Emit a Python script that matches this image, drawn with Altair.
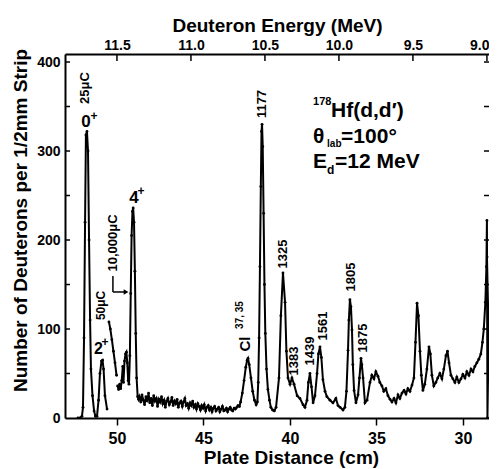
import altair as alt
import pandas as pd

# ---------------- spectrum: plate distance (cm) vs counts per 1/2 mm strip ----------------
# 25 uC exposure (0+ and 2+ peaks)
a_cm = [52.25, 52.13, 52.02, 51.96, 51.90, 51.84, 51.79, 51.73, 51.67, 51.61, 51.55, 51.50,
        51.41, 51.32, 51.24, 51.15, 51.06, 50.98, 50.89, 50.83, 50.77, 50.69, 50.57]
a_n = [0, 0, 2, 12, 90, 220, 318, 322, 300, 200, 110, 55,
       25, 8, 2, 2, 20, 50, 64, 65, 55, 25, 10]

# 50 uC exposure
b_cm = [50.46, 50.38, 50.29, 50.20, 50.11, 50.02]
b_n = [108, 100, 88, 75, 62, 48]

# 10,000 uC exposure
c1_cm = [49.96, 49.90, 49.84, 49.78, 49.72, 49.66, 49.62, 49.56, 49.50, 49.45, 49.40, 49.35,
         49.30, 49.25, 49.20, 49.15, 49.10, 49.06, 49.01, 48.96, 48.91, 48.86, 48.80, 48.75]
c1_n = [36, 32, 38, 33, 42, 58, 40, 64, 72, 74, 62, 42,
        38, 70, 140, 205, 232, 236, 220, 165, 95, 45, 24, 21]

bg_cm = [48.70, 48.62, 48.55, 48.47, 48.40, 48.32, 48.25, 48.17, 48.10, 48.02,
         47.95, 47.87, 47.80, 47.72, 47.65, 47.57, 47.50, 47.42, 47.35, 47.27,
         47.20, 47.12, 47.05, 46.97, 46.90, 46.82, 46.75, 46.67, 46.60, 46.52,
         46.45, 46.37, 46.30, 46.22, 46.15, 46.07, 46.00, 45.92, 45.85, 45.77,
         45.70, 45.62, 45.55, 45.47, 45.40, 45.32, 45.25, 45.17, 45.10, 45.02,
         44.95, 44.87, 44.80, 44.72, 44.65, 44.57, 44.50, 44.42, 44.35, 44.27,
         44.20, 44.12, 44.05, 43.97, 43.90, 43.82, 43.75, 43.67, 43.60, 43.52,
         43.45, 43.37, 43.30, 43.22, 43.15, 43.07, 43.00]
bg_n = [24, 18, 26, 20, 15, 24, 19, 28, 17, 22,
        14, 25, 19, 22, 13, 21, 18, 24, 16, 20,
        12, 19, 22, 15, 18, 23, 14, 19, 16, 21,
        12, 17, 19, 13, 18, 22, 14, 16, 11, 17,
        14, 19, 12, 15, 10, 16, 13, 9, 14, 11,
        15, 8, 12, 14, 9, 12, 7, 11, 13, 8,
        10, 12, 7, 10, 13, 8, 9, 11, 7, 10,
        12, 9, 8, 11, 10, 12, 14]

cl_cm = [42.92, 42.85, 42.75, 42.65, 42.55, 42.47, 42.42, 42.35, 42.25, 42.15, 42.05, 41.95,
         41.88, 41.83, 41.78, 41.73, 41.68, 41.64, 41.61, 41.57, 41.52, 41.47, 41.42, 41.35,
         41.27, 41.18, 41.10, 41.00, 40.90]
cl_n = [13, 18, 28, 42, 57, 65, 67, 60, 45, 30, 20, 15,
        18, 40, 90, 170, 260, 322, 330, 305, 230, 150, 95, 55,
        32, 20, 12, 9, 8]

mid_cm = [40.80, 40.63, 40.52, 40.40, 40.28, 40.20, 40.11, 39.99, 39.88, 39.76,
          39.58, 39.42, 39.24, 39.13, 39.01, 38.93, 38.84, 38.75, 38.66, 38.55,
          38.43, 38.35, 38.26, 38.18, 38.09, 37.97, 37.86, 37.68, 37.51, 37.34,
          37.22, 37.10, 36.93, 36.82, 36.73, 36.64, 36.59, 36.53, 36.47, 36.41,
          36.36, 36.29, 36.18, 36.06, 35.98, 35.89, 35.84, 35.77, 35.66, 35.54]
mid_n = [12, 45, 115, 163, 130, 75, 45, 38, 45, 38,
         25, 22, 15, 12, 20, 40, 50, 35, 17, 25,
         50, 72, 80, 68, 43, 30, 24, 20, 17, 22,
         14, 12, 9, 12, 30, 76, 110, 133, 125, 99,
         60, 31, 17, 26, 45, 67, 60, 45, 17, 20]

tail_cm = [35.37, 35.26, 35.14, 35.03, 34.91, 34.80, 34.68, 34.57, 34.45, 34.33,
           34.21, 34.10, 33.98, 33.87, 33.75, 33.64, 33.52, 33.40, 33.29, 33.18,
           33.06, 32.94, 32.83, 32.74, 32.65, 32.57, 32.48, 32.40, 32.31, 32.20,
           32.08, 31.96, 31.88, 31.79, 31.68, 31.56, 31.45, 31.33, 31.21, 31.10,
           30.98, 30.89, 30.80, 30.69, 30.58, 30.46, 30.35, 30.23, 30.11, 30.00,
           29.88, 29.77, 29.65, 29.53, 29.42, 29.31, 29.19, 29.08, 28.96, 28.87,
           28.79, 28.70, 28.64, 28.61, 28.58, 28.49, 28.43, 28.32, 28.27, 28.21]
tail_n = [40, 48, 44, 52, 47, 40, 36, 30, 33, 25,
          21, 18, 22, 17, 26, 22, 28, 31, 27, 33,
          30, 37, 45, 85, 129, 115, 75, 48, 31, 38,
          55, 80, 72, 48, 36, 40, 45, 50, 44, 55,
          70, 75, 62, 48, 44, 40, 46, 40, 44, 49,
          45, 52, 48, 55, 52, 58, 62, 66, 72, 85,
          100, 130, 170, 222, 0, 120, 181, 176, 100, 0]

# ---------------- axes ----------------
plate_ticks = [50, 45, 40, 35, 30]
count_labels = [0, 100, 200, 300, 400]
count_minor = [50, 100, 150, 200, 250, 300, 350, 400]
energy_ticks = [11.5, 11.0, 10.5, 10.0, 9.5, 9.0]

# ---------------- annotations ----------------
rot_text = ["25μC", "50μC", "10,000μC", "Cl", "37, 35", "1177", "1325", "1383", "1439", "1561", "1805", "1875"]
rot_cm = [51.84, 50.92, 50.23, 42.60, 42.90, 41.61, 40.40, 39.76, 38.84, 38.09, 36.47, 35.77]
rot_n = [370.8, 126.5, 196.6, 83.1, 115.7, 352.8, 184.3, 64.0, 75.3, 103.4, 158.4, 89.9]
rot_size = [13, 12, 13, 15, 10, 13, 13, 13, 13, 13, 13, 13]

up_text = ["0", "+", "4", "+", "2", "+"]
up_cm = [51.79, 51.32, 49.01, 48.61, 51.06, 50.69]
up_n = [332.6, 339.3, 247.2, 255.0, 77.5, 85.0]
up_size = [17, 12, 17, 12, 16, 12]

info_text = ["178", "Hf(d,d′)", "θ", "lab", "=100°", "E", "d", "=12 MeV"]
info_cm = [38.66, 37.62, 38.66, 37.85, 37.04, 38.66, 37.85, 37.39]
info_n = [351.7, 338.2, 309.0, 304.5, 309.0, 281.0, 274.2, 281.0]
info_size = [11, 21, 21, 10, 21, 21, 12, 21]

arrow_x1 = [50.23, 50.23]
arrow_x2 = [50.23, 49.55]
arrow_y1 = [159.6, 141.6]
arrow_y2 = [141.6, 141.6]
arrow_head_cm = [49.47]
arrow_head_n = [141.6]

# ---------------- build tables ----------------
segments = [("a", a_cm, a_n), ("b", b_cm, b_n),
            ("c", c1_cm + bg_cm + cl_cm + mid_cm + tail_cm, c1_n + bg_n + cl_n + mid_n + tail_n)]
rows = []
for seg, xs, ys in segments:
    assert len(xs) == len(ys), seg
    for i, (x, y) in enumerate(zip(xs, ys)):
        rows.append({"seg": seg, "i": i, "cm": x, "n": y})
spec = pd.DataFrame(rows)

rot_df = pd.DataFrame({"t": rot_text, "cm": rot_cm, "n": rot_n, "fs": rot_size})
up_df = pd.DataFrame({"t": up_text, "cm": up_cm, "n": up_n, "fs": up_size})
info_df = pd.DataFrame({"t": info_text, "cm": info_cm, "n": info_n, "fs": info_size})
arrow_df = pd.DataFrame({"x1": arrow_x1, "x2": arrow_x2, "y1": arrow_y1, "y2": arrow_y2})
head_df = pd.DataFrame({"cm": arrow_head_cm, "n": arrow_head_n})
minor_df = pd.DataFrame({"v": count_minor})
energy_df = pd.DataFrame({"E": energy_ticks})

W, H = 424, 364
FONT = "Liberation Sans"
xsc = alt.Scale(domain=[28.49, 53.0], reverse=True, nice=False, zero=False)
ysc = alt.Scale(domain=[0, 409], nice=False, zero=False)
esc = alt.Scale(domain=[8.986, 11.851], reverse=True, nice=False, zero=False)

AX_X = alt.Axis(
    orient="bottom", values=plate_ticks, format="d", grid=False,
    tickSize=7, tickWidth=1.5, tickColor="black",
    domainColor="black", domainWidth=2,
    labelFont=FONT, labelFontSize=16, labelFontWeight="bold", labelColor="black", labelPadding=5,
    title="Plate Distance (cm)", titleFont=FONT, titleFontSize=19, titleFontWeight="bold",
    titleColor="black", titleX=226, titleY=45, titleAlign="center", titleBaseline="alphabetic")
AX_Y = alt.Axis(
    orient="left", values=count_labels, format="d", grid=False,
    tickSize=0, domainColor="black", domainWidth=2,
    labelFont=FONT, labelFontSize=14, labelFontWeight="bold", labelColor="black", labelPadding=5,
    title="Number of Deuterons per 1/2mm Strip", titleFont=FONT, titleFontSize=19,
    titleFontWeight="bold", titleColor="black", titleAngle=270, titleX=-45, titleY=166,
    titleAlign="center", titleBaseline="middle")

X = alt.X("cm:Q", scale=xsc, axis=AX_X)
Y = alt.Y("n:Q", scale=ysc, axis=AX_Y)

line = alt.Chart(spec).mark_line(color="black", strokeWidth=2.0, clip=True).encode(
    x=X, y=Y, detail="seg:N", order="i:Q")

dots = alt.Chart(spec).mark_circle(color="black", size=8, opacity=1, clip=True).encode(x=X, y=Y)

left_ticks = alt.Chart(minor_df).mark_rule(color="black", strokeWidth=1.5).encode(
    y=alt.Y("v:Q", scale=ysc, axis=AX_Y), x=alt.value(0), x2=alt.value(5))
right_ticks = alt.Chart(minor_df).mark_rule(color="black", strokeWidth=1.5).encode(
    y=alt.Y("v:Q", scale=ysc, axis=AX_Y), x=alt.value(W - 5), x2=alt.value(W))

rot_labels = alt.Chart(rot_df).mark_text(
    angle=270, font=FONT, fontWeight="bold", color="black", align="center", baseline="middle"
).encode(x=X, y=Y, text="t:N", size=alt.Size("fs:Q", scale=None, legend=None))

up_labels = alt.Chart(up_df).mark_text(
    font=FONT, fontWeight="bold", color="black", align="center", baseline="middle"
).encode(x=X, y=Y, text="t:N", size=alt.Size("fs:Q", scale=None, legend=None))

info_labels = alt.Chart(info_df).mark_text(
    font=FONT, fontWeight="bold", color="black", align="left", baseline="alphabetic"
).encode(x=X, y=Y, text="t:N", size=alt.Size("fs:Q", scale=None, legend=None))

arrow = alt.Chart(arrow_df).mark_rule(color="black", strokeWidth=1.5).encode(
    x=alt.X("x1:Q", scale=xsc, axis=AX_X), x2="x2:Q",
    y=alt.Y("y1:Q", scale=ysc, axis=AX_Y), y2="y2:Q")
head = alt.Chart(head_df).mark_point(shape="triangle-right", filled=True, color="black",
                                     size=30, opacity=1).encode(x=X, y=Y)

main = alt.layer(line, dots, left_ticks, right_ticks, rot_labels, up_labels, info_labels, arrow, head)

top = alt.Chart(energy_df).mark_rule(color="black", strokeWidth=1.5).encode(
    x=alt.X("E:Q", scale=esc, axis=alt.Axis(
        orient="top", values=energy_ticks, format=".1f", grid=False,
        tickSize=0, domainColor="black", domainWidth=2,
        labelFont=FONT, labelFontSize=14, labelFontWeight="bold", labelColor="black", labelPadding=2,
        labelAlign={"condition": {"test": "datum.value <= 9.0", "value": "right"}, "value": "center"},
        labelOffset={"condition": {"test": "datum.value <= 9.0", "value": 2}, "value": 0},
        title="Deuteron Energy  (MeV)", titleFont=FONT, titleFontSize=19, titleFontWeight="bold",
        titleColor="black", titleY=-23, titleBaseline="alphabetic")),
    y=alt.value(0), y2=alt.value(7))

chart = alt.layer(main, top).resolve_scale(x="independent").properties(
    width=W, height=H,
    autosize=alt.AutoSizeParams(type="none"),
    padding={"left": 57, "top": 46, "right": 0, "bottom": 51},
).configure_view(stroke=None)

chart.save("out.html", embed_options={"renderer": "svg", "actions": False})
